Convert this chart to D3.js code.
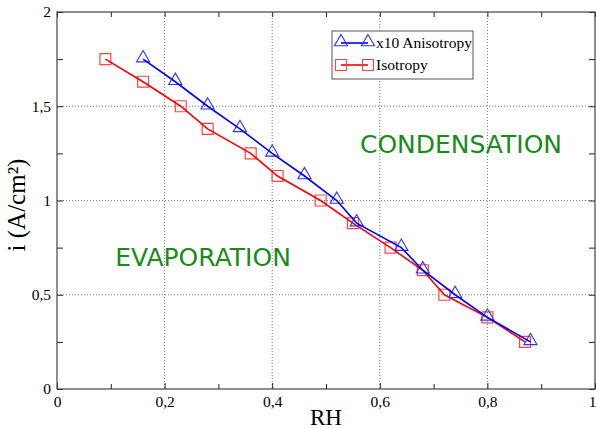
<!DOCTYPE html>
<html>
<head>
<meta charset="utf-8">
<script src="https://cdn.jsdelivr.net/npm/d3@7"></script>
<style>
  body { margin: 0; background: #fff; }
  svg { display: block; }
</style>
</head>
<body>
<div id="chart"></div>
<script>
// data
const anisoRH = [0.16, 0.22, 0.28, 0.34, 0.40, 0.46, 0.52, 0.557, 0.64, 0.68, 0.74, 0.80, 0.88];
const anisoI  = [1.75, 1.63, 1.50, 1.38, 1.25, 1.13, 1.00, 0.88, 0.75, 0.63, 0.50, 0.38, 0.25];
const isoRH   = [0.09, 0.16, 0.23, 0.28, 0.36, 0.41, 0.49, 0.55, 0.62, 0.68, 0.72, 0.80, 0.87];
const isoI    = [1.75, 1.63, 1.50, 1.38, 1.25, 1.13, 1.00, 0.88, 0.75, 0.63, 0.50, 0.38, 0.25];
const xTicks = [0, 0.2, 0.4, 0.6, 0.8, 1];
const yTicks = [0, 0.5, 1, 1.5, 2];
const xMinor = [0.1, 0.3, 0.5, 0.7, 0.9];
const yMinor = [0.25, 0.75, 1.25, 1.75];

const width = 596, height = 429;
const pLeft = 57, pRight = 595, pTop = 12, pBottom = 389;

const svg = d3.select("#chart").append("svg")
  .attr("width", width).attr("height", height);

const x = d3.scaleLinear().domain([0, 1]).range([pLeft, pRight]);
const y = d3.scaleLinear().domain([0, 2]).range([pBottom, pTop]);

const fmt = d => String(d).replace(".", ",");

// dotted grid at the inner major ticks
svg.append("g").selectAll("line")
  .data(xTicks.slice(1, -1)).enter().append("line")
  .attr("x1", d => x(d)).attr("x2", d => x(d))
  .attr("y1", pTop).attr("y2", pBottom)
  .attr("stroke", "#777").attr("stroke-width", 1).attr("stroke-dasharray", "1,2");
svg.append("g").selectAll("line")
  .data(yTicks.slice(1, -1)).enter().append("line")
  .attr("x1", pLeft).attr("x2", pRight)
  .attr("y1", d => y(d)).attr("y2", d => y(d))
  .attr("stroke", "#777").attr("stroke-width", 1).attr("stroke-dasharray", "1,2");

// axes, ticks pointing inward on all four sides
const serif = "'Liberation Serif', 'Times New Roman', serif";
function axis(gen, tr) {
  const g = svg.append("g").attr("transform", tr).call(gen);
  g.select(".domain").remove();
  g.selectAll(".tick line").attr("stroke", "#222");
  return g;
}
const xb = axis(d3.axisBottom(x).tickValues(xTicks).tickSize(-6).tickPadding(7).tickFormat(fmt),
  `translate(0,${pBottom})`);
xb.selectAll("text").attr("font-family", serif).attr("font-size", 15.5).attr("fill", "#000")
  .attr("dx", d => d === 1 ? -3 : 0);
axis(d3.axisBottom(x).tickValues(xMinor).tickSize(-5).tickFormat(""), `translate(0,${pBottom})`);
axis(d3.axisTop(x).tickValues(xTicks.concat(xMinor)).tickSize(-5).tickFormat(""), `translate(0,${pTop})`);

const yl = axis(d3.axisLeft(y).tickValues(yTicks).tickSize(-6).tickPadding(6).tickFormat(fmt),
  `translate(${pLeft},0)`);
yl.selectAll("text").attr("font-family", serif).attr("font-size", 15.5).attr("fill", "#000");
axis(d3.axisLeft(y).tickValues(yMinor).tickSize(-6).tickFormat(""), `translate(${pLeft},0)`);
axis(d3.axisRight(y).tickValues(yTicks.concat(yMinor)).tickSize(-6).tickFormat(""), `translate(${pRight},0)`);

// frame
svg.append("rect")
  .attr("x", pLeft).attr("y", pTop).attr("width", pRight - pLeft).attr("height", pBottom - pTop)
  .attr("fill", "none").attr("stroke", "#444").attr("stroke-width", 1.2);

// axis titles
svg.append("text").attr("x", (pLeft + pRight) / 2).attr("y", 425)
  .attr("text-anchor", "middle").attr("font-family", serif).attr("font-size", 23)
  .text("RH");
svg.append("text").attr("transform", `translate(25,205) rotate(-90)`)
  .attr("text-anchor", "middle").attr("font-family", serif).attr("font-size", 25)
  .text("i (A/cm²)");

// region labels
const green = "#1b8a1b";
svg.append("text").attr("x", 461).attr("y", y(1.3) + 9)
  .attr("text-anchor", "middle").attr("font-family", "'DejaVu Sans', sans-serif")
  .attr("font-size", 25).attr("fill", green).text("CONDENSATION");
svg.append("text").attr("x", 203).attr("y", y(0.7) + 9)
  .attr("text-anchor", "middle").attr("font-family", "'DejaVu Sans', sans-serif")
  .attr("font-size", 25).attr("fill", green).text("EVAPORATION");

const line = d3.line().x(d => x(d[0])).y(d => y(d[1]));
const aniso = anisoRH.map((v, i) => [v, anisoI[i]]);
const iso = isoRH.map((v, i) => [v, isoI[i]]);

const tri = d3.symbol().type(d3.symbolTriangle).size(75);
const sq = d3.symbol().type(d3.symbolSquare).size(120);

// isotropy series
svg.append("g").selectAll("path").data(iso).enter().append("path")
  .attr("d", sq).attr("transform", d => `translate(${x(d[0])},${y(d[1])})`)
  .attr("fill", "none").attr("stroke", "#f44").attr("stroke-width", 1.2);
svg.append("path").datum(iso).attr("d", line)
  .attr("fill", "none").attr("stroke", "#f00").attr("stroke-width", 1.6);

// anisotropy series
svg.append("g").selectAll("path").data(aniso).enter().append("path")
  .attr("d", tri).attr("transform", d => `translate(${x(d[0])},${y(d[1]) - 1})`)
  .attr("fill", "none").attr("stroke", "#33f").attr("stroke-width", 1.1);
svg.append("path").datum(aniso).attr("d", line)
  .attr("fill", "none").attr("stroke", "#00f").attr("stroke-width", 1.6);

// legend
const lg = svg.append("g").attr("transform", "translate(332,31)");
lg.append("rect").attr("width", 141).attr("height", 48)
  .attr("fill", "#fff").attr("stroke", "#555").attr("stroke-width", 1);
const items = [
  { label: "x10 Anisotropy", color: "#00f", mark: "#33f", sym: tri, dy: -1 },
  { label: "Isotropy", color: "#f00", mark: "#f44", sym: sq, dy: 0 }
];
items.forEach((it, i) => {
  const cy = 12 + i * 22;
  lg.append("line").attr("x1", 9).attr("x2", 36).attr("y1", cy).attr("y2", cy)
    .attr("stroke", it.color).attr("stroke-width", 1.6);
  [9, 36].forEach(px => lg.append("path").attr("d", it.sym)
    .attr("transform", `translate(${px},${cy + it.dy})`)
    .attr("fill", "none").attr("stroke", it.mark).attr("stroke-width", 1.1));
  lg.append("text").attr("x", 44).attr("y", cy + 5)
    .attr("font-family", serif).attr("font-size", 15.5).text(it.label);
});
</script>
</body>
</html>
